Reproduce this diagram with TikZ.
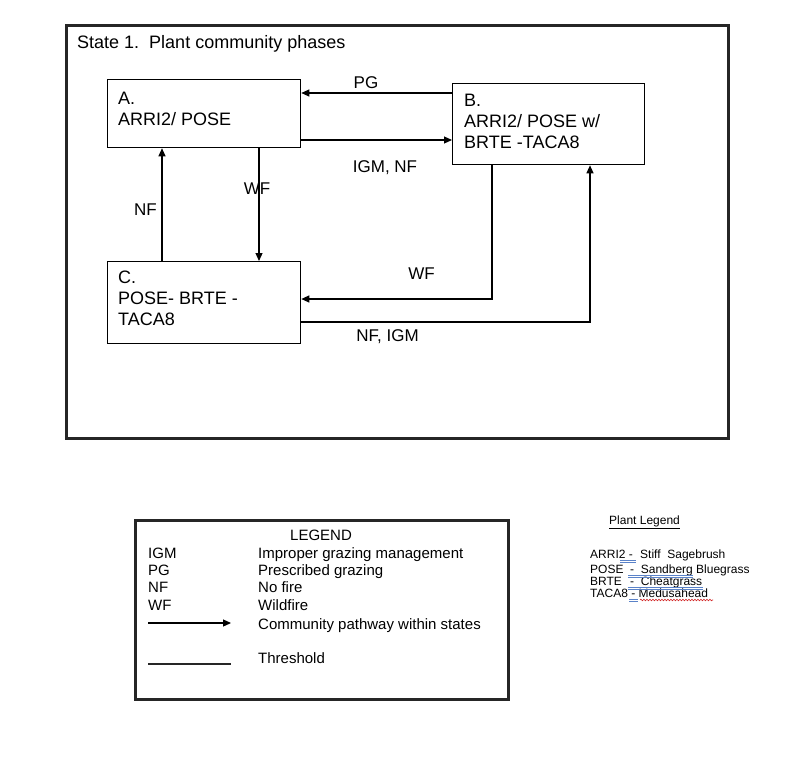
\documentclass[tikz,border=0pt]{standalone}
\usepackage{fontspec}
\setmainfont{Liberation Sans}
\usetikzlibrary{arrows.meta,decorations.pathmorphing}
\definecolor{proofblue}{RGB}{90,130,200}
\definecolor{proofred}{RGB}{210,40,40}
\begin{document}
\begin{tikzpicture}[x=1pt,y=-1pt,
  phasebox/.style={draw=black,line width=1.3pt,inner sep=0pt,anchor=north west},
  framebox/.style={draw=black!85,line width=2.6pt,inner sep=0pt,anchor=north west},
  boxtext/.style={anchor=west,align=left,inner sep=0pt,font=\fontsize{18}{21}\selectfont},
  lbl/.style={inner sep=0pt,font=\fontsize{17}{20}\selectfont},
  arr/.style={line width=1.2pt,-{Triangle[length=8pt,width=7pt]}},
  legtext/.style={anchor=base west,inner sep=0pt,font=\fontsize{15}{17}\selectfont},
  plttext/.style={anchor=base west,inner sep=0pt,font=\fontsize{12}{14}\selectfont},
  spell/.style={draw=proofblue,line width=0.6pt},
]
\useasboundingbox (0,0) rectangle (800,768);
\fill[white] (0,0) rectangle (800,768);

% outer state frame
\node[framebox,minimum width=662pt,minimum height=413pt] (frame) at (65,24) {};
\node[anchor=base west,inner sep=0pt,font=\fontsize{18}{21}\selectfont] (title) at (77,48.5) {State 1.\ \ Plant community phases};

% phase boxes
\node[phasebox,minimum width=193pt,minimum height=68pt] (A) at (107,79) {};
\node[phasebox,minimum width=192pt,minimum height=81pt] (B) at (452,83) {};
\node[phasebox,minimum width=193pt,minimum height=82pt] (C) at (107,261) {};

\node[boxtext] (At) at (118,108.5) {A.\\ARRI2/ POSE};
\node[boxtext] (Bt) at (464,121.5) {B.\\ARRI2/ POSE w/\\BRTE -TACA8};
\node[boxtext] (Ct) at (118,298.5) {C.\\POSE- BRTE -\\TACA8};

% helper coordinates
\coordinate (pgy) at (0,93);
\coordinate (igy) at (0,140);
\coordinate (wfx) at (259,0);
\coordinate (nfx) at (162,0);
\coordinate (wbx) at (492,0);
\coordinate (wby) at (0,299);
\coordinate (nix) at (590,0);
\coordinate (niy) at (0,322);

% connectors
\draw[arr] (B.west |- pgy) -- (A.east |- pgy);
\draw[arr] (A.east |- igy) -- (B.west |- igy);
\draw[arr] (A.south -| wfx) -- (C.north -| wfx);
\draw[arr] (C.north -| nfx) -- (A.south -| nfx);
\draw[arr] (B.south -| wbx) |- (C.east |- wby);
\draw[arr] (C.east |- niy) -| (B.south -| nix);

% connector labels
\node[lbl] (lpg) at (366,83) {PG};
\node[lbl] (ligm) at (385,168) {IGM, NF};
\node[lbl] (lwf1) at (257,189) {WF};
\node[lbl] (lnf) at (145.5,210) {NF};
\node[lbl] (lwf2) at (421.5,274) {WF};
\node[lbl] (lnfigm) at (387.5,337) {NF, IGM};

% legend box
\node[framebox,minimum width=373pt,minimum height=179pt] (leg) at (134,519) {};
\node[anchor=base,inner sep=0pt,font=\fontsize{15}{17}\selectfont] (legt) at (321,540.5) {LEGEND};
\node[legtext] (l1a) at (148,558.5) {IGM};
\node[legtext] (l1b) at (258,558.5) {Improper grazing management};
\node[legtext] (l2a) at (148,575) {PG};
\node[legtext] (l2b) at (258,575) {Prescribed grazing};
\node[legtext] (l3a) at (148,592.5) {NF};
\node[legtext] (l3b) at (258,592.5) {No fire};
\node[legtext] (l4a) at (148,610.5) {WF};
\node[legtext] (l4b) at (258,610.5) {Wildfire};
\coordinate (la1) at (148,623);
\coordinate (la2) at (231,623);
\draw[arr] (la1) -- (la2);
\node[legtext] (l5b) at (258,629) {Community pathway within states};
\coordinate (lt1) at (148,664);
\coordinate (lt2) at (231,664);
\draw[line width=2.4pt,black!85] (lt1) -- (lt2);
\node[legtext] (l6b) at (258,663.5) {Threshold};

% plant legend
\node[plttext] (ptitle) at (609,524.8) {\underline{Plant Legend}};
\node[plttext] (p1a) at (590,558.3) {ARRI2 -};
\node[plttext] (p1b) at (640,558.3) {Stiff\ \ Sagebrush};
\node[plttext] (p2a) at (590,573.3) {POSE};
\node[plttext] (p2b) at (630,573.3) {-\ \ Sandberg Bluegrass};
\node[plttext] (p3a) at (590,585.3) {BRTE};
\node[plttext] (p3b) at (630,585.3) {-\ \ Cheatgrass};
\node[plttext] (p4a) at (590,597.3) {TACA8 - Medusahead};

% proofing underlines
\draw[spell] (620,560) -- (636,560) (620,562) -- (636,562);
\draw[spell] (628,575) -- (693,575) (628,577) -- (693,577);
\draw[spell] (628,587) -- (703,587) (628,589) -- (703,589);
\draw[spell] (629,599) -- (638,599) (629,601) -- (638,601);
\draw[proofred,line width=0.6pt,decorate,decoration={snake,amplitude=0.8pt,segment length=3pt}] (640,600) -- (713,600);
\end{tikzpicture}
\end{document}
